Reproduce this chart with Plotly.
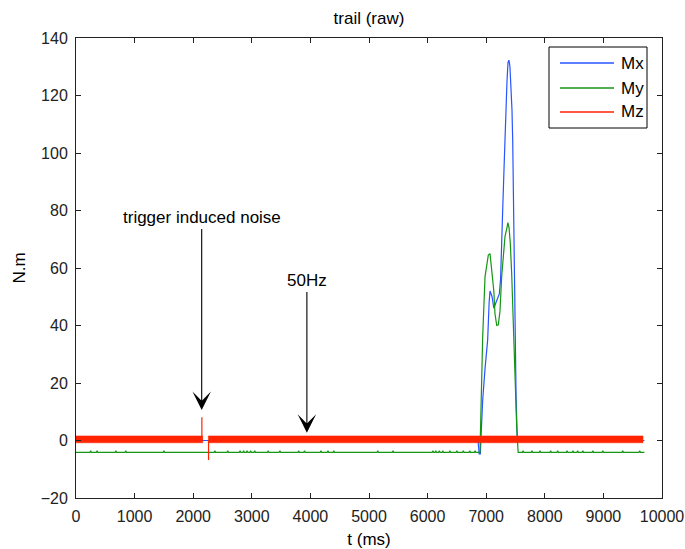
import plotly.graph_objects as go

# ---- data -------------------------------------------------------------
# Mx (blue): flat at zero, single large moment pulse around 7.0-7.5 s
mx_t = [0, 6860, 6880, 6900, 6920, 6940, 6980, 7025, 7050, 7065, 7100, 7130,
        7167, 7200, 7224, 7245, 7264, 7281, 7305, 7330, 7355, 7372, 7389, 7405,
        7420, 7440, 7452, 7474, 7491, 7510, 7531, 9700]
mx_v = [0, 0, -4.7, -4.7, 5, 14, 25, 35, 48, 52, 50, 46,
        48, 50, 51, 56, 66, 80, 95, 112, 125, 131.5, 132.3, 130,
        125, 115, 104.5, 67, 35, 15, 0, 0]

# My (green): offset baseline with small blips, double-humped pulse
my_base = -4.1
my_blip = -3.6
my_blip_t = [250, 360, 680, 850, 1500, 2370, 2590, 2800, 2860, 2920, 2980,
             3050, 3280, 3480, 3800, 3900, 4180, 4300, 4400, 5150, 5410, 6090,
             6140, 6200, 6260, 6380, 6500, 6610, 6720, 6810, 7630, 7780, 7920,
             8100, 8220, 8380, 8480, 8560, 8650, 8820, 8990, 9330, 9620]
my_pulse_t = [6880, 6894, 6910, 6940, 6980, 7036, 7065, 7090, 7130, 7150, 7180,
              7207, 7235, 7264, 7321, 7355, 7370, 7390, 7410, 7435, 7463, 7500,
              7520, 7545]
my_pulse_v = [-4.1, -4.1, 10, 36, 57, 64.5, 65, 60, 52, 44, 40,
              40.2, 45, 57, 71, 74, 75.8, 74, 69, 58, 38, 20,
              5, -4.1]
my_end = 9700

# Mz (red): dense 50 Hz noise band around zero, interrupted by the trigger
mz_seg_start = [0, 2258]
mz_seg_end = [2162, 9676]
mz_hi = 1.6
mz_lo = -0.8
mz_spike_t = [2148, 2262]
mz_spike_v = [8.1, -6.8]

x_ticks = list(range(0, 10001, 1000))
x_tick_text = [str(v) for v in x_ticks]
y_ticks = list(range(-20, 141, 20))

# ---- assemble My series ----------------------------------------------
my_t, my_v = [0], [my_base]
for t in [b for b in my_blip_t if b < my_pulse_t[0]]:
    my_t += [t - 12, t, t + 12]
    my_v += [my_base, my_blip, my_base]
my_t += my_pulse_t
my_v += my_pulse_v
for t in [b for b in my_blip_t if b > my_pulse_t[-1]]:
    my_t += [t - 12, t, t + 12]
    my_v += [my_base, my_blip, my_base]
my_t.append(my_end)
my_v.append(my_base)

# ---- assemble Mz band polygons and spikes -----------------------------
band_x, band_y = [], []
for s, e in zip(mz_seg_start, mz_seg_end):
    band_x += [s, e, e, s, s, None]
    band_y += [mz_hi, mz_hi, mz_lo, mz_lo, mz_hi, None]
spike_x, spike_y = [], []
for t, v in zip(mz_spike_t, mz_spike_v):
    spike_x += [t, t, None]
    spike_y += [0, v, None]

BLUE = "#2855ff"
GREEN = "#149614"
RED = "#ff2300"
FONT = "Liberation Sans, Arial, sans-serif"

fig = go.Figure()
fig.add_trace(go.Scatter(x=mx_t, y=mx_v, mode="lines", name="Mx",
                         line=dict(color=BLUE, width=1.2)))
fig.add_trace(go.Scatter(x=my_t, y=my_v, mode="lines", name="My",
                         line=dict(color=GREEN, width=1.2)))
fig.add_trace(go.Scatter(x=band_x, y=band_y, mode="lines", name="Mz",
                         fill="toself", fillcolor=RED,
                         line=dict(color=RED, width=0.5)))
fig.add_trace(go.Scatter(x=spike_x, y=spike_y, mode="lines", name="Mz spikes",
                         line=dict(color=RED, width=1.2)))

# plot area geometry (pixels) for placing the legend box
W, H = 685, 549
L, R, T, B = 76, 23, 38, 51
PW, PH = W - L - R, H - T - B


def px(xp):
    return (xp - L) / PW


def py(yp):
    return (H - B - yp) / PH


shapes = [dict(type="rect", xref="paper", yref="paper",
               x0=px(549), x1=px(647), y0=py(128), y1=py(47),
               line=dict(color="black", width=1), fillcolor="white",
               layer="above")]
annotations = []
for name, col, yy in [("Mx", BLUE, 63), ("My", GREEN, 88), ("Mz", RED, 112)]:
    shapes.append(dict(type="line", xref="paper", yref="paper",
                       x0=px(560), x1=px(614), y0=py(yy), y1=py(yy),
                       line=dict(color=col, width=1.3), layer="above"))
    annotations.append(dict(text=name, xref="paper", yref="paper",
                            x=px(619), y=py(yy), xanchor="left",
                            yanchor="middle", showarrow=False,
                            font=dict(size=17, color="black", family=FONT)))

# arrows pointing out the noise sources
for label, tx, tip, tail in [("trigger induced noise", 2145, 10.6, 77.4),
                             ("50Hz", 3940, 2.7, 55.5)]:
    annotations.append(dict(text=label, x=tx, y=tip, ax=tx, ay=tail,
                            axref="x", ayref="y", xref="x", yref="y",
                            showarrow=True, arrowhead=3, arrowsize=2.8,
                            arrowwidth=1.1, arrowcolor="black",
                            font=dict(size=17, color="black", family=FONT)))

axis_common = dict(showline=True, linecolor="#222222", linewidth=1,
                   mirror="ticks", ticks="inside", ticklen=5,
                   tickcolor="#222222", showgrid=False, zeroline=False,
                   automargin=False,
                   tickfont=dict(size=16, color="#222222", family=FONT))

fig.update_layout(
    width=W, height=H,
    margin=dict(l=L, r=R, t=T, b=B, autoexpand=False),
    paper_bgcolor="white", plot_bgcolor="white",
    showlegend=False,
    font=dict(family=FONT, size=16, color="black"),
    title=dict(text="trail (raw)", x=0.5, xref="paper", y=1 - 18 / H,
               yref="container", xanchor="center", yanchor="middle",
               font=dict(size=17, color="black")),
    xaxis=dict(range=[0, 10000], tickvals=x_ticks, ticktext=x_tick_text,
               title=dict(text="t (ms)", standoff=8,
                          font=dict(size=17, color="black")),
               ticklabelstandoff=4, **axis_common),
    yaxis=dict(range=[-20, 140], tickvals=y_ticks,
               title=dict(text="N.m", standoff=10,
                          font=dict(size=17, color="black")),
               ticklabelstandoff=4, **axis_common),
    shapes=shapes,
    annotations=annotations,
)

fig.write_html("out.html")
